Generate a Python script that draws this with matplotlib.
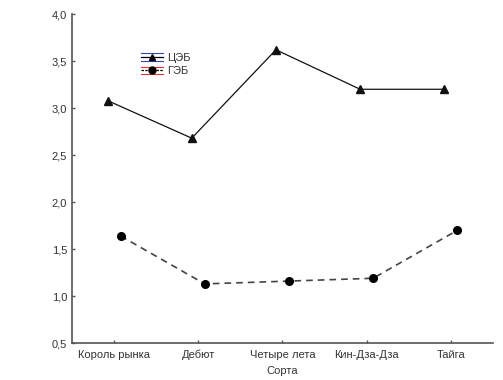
import matplotlib
matplotlib.use("Agg")
import matplotlib.pyplot as plt
import matplotlib.transforms as mtransforms
from matplotlib.legend_handler import HandlerBase
from matplotlib.lines import Line2D

categories = ["Король рынка", "Дебют", "Четыре лета", "Кин-Дза-Дза", "Тайга"]
ceb = [3.08, 2.68, 3.62, 3.20, 3.20]
geb = [1.64, 1.13, 1.16, 1.19, 1.70]
yticks = [0.5, 1.0, 1.5, 2.0, 2.5, 3.0, 3.5, 4.0]
ytick_labels = ["0,5", "1,0", "1,5", "2,0", "2,5", "3,0", "3,5", "4,0"]

plt.rcParams['font.family'] = ['Liberation Sans', 'DejaVu Sans']

fig = plt.figure(figsize=(5.03, 3.80), dpi=100)
ax = fig.add_axes([0.143, 0.097, 0.837, 0.866])

x = list(range(len(categories)))
off_l = ax.transData + mtransforms.ScaledTranslation(-0.065, 0, fig.dpi_scale_trans)
off_r = ax.transData + mtransforms.ScaledTranslation(0.065, 0, fig.dpi_scale_trans)

ax.plot(x, ceb, color='#111111', lw=0.9, marker='^', markersize=5.5,
        transform=off_l)
ax.plot(x, geb, color='#444444', lw=1.2, ls=(0, (4, 3)), marker='o',
        markersize=5.5, markerfacecolor='black', markeredgecolor='black',
        transform=off_r)

ax.set_xlim(-0.5, 4.5)
ax.set_ylim(0.5, 4.0)
ax.set_xticks(x)
ax.set_xticklabels(categories, va='baseline')
ax.set_yticks(yticks)
ax.set_yticklabels(ytick_labels)
for s in ['top', 'right']:
    ax.spines[s].set_visible(False)
for s in ['left', 'bottom']:
    ax.spines[s].set_color('#555555')
    ax.spines[s].set_linewidth(1.2)
ax.tick_params(direction='in', length=2.5, width=1, color='#555555',
               labelsize=8, labelcolor='#333333')
ax.tick_params(axis='x', pad=11)
ax.set_xlabel("Сорта", fontsize=8, color='#333333', labelpad=4)


class EBHandler(HandlerBase):
    def __init__(self, color, marker, ls):
        super().__init__()
        self.color = color
        self.marker = marker
        self.ls = ls

    def create_artists(self, legend, orig_handle, xdescent, ydescent,
                       width, height, fontsize, trans):
        arts = []
        for dy in (height * 0.0, height * 1.0):
            arts.append(Line2D([0 - xdescent, width - xdescent],
                               [dy - ydescent, dy - ydescent],
                               color=self.color, lw=0.8, transform=trans))
        mid = height / 2 - ydescent
        arts.append(Line2D([0 - xdescent, width - xdescent], [mid, mid],
                           color='black', lw=0.9, ls=self.ls, transform=trans))
        arts.append(Line2D([width / 2 - xdescent], [mid], color='black',
                           marker=self.marker, markersize=5, ls='none',
                           transform=trans))
        return arts


h1 = Line2D([], [])
h2 = Line2D([], [])
leg = ax.legend([h1, h2], ["ЦЭБ", "ГЭБ"], loc='upper left',
                bbox_to_anchor=(0.14, 0.912), frameon=False, fontsize=8,
                handlelength=2.0, handletextpad=0.4, labelspacing=0.3,
                handler_map={h1: EBHandler('#3344aa', '^', '-'),
                             h2: EBHandler('#dd3333', 'o', (0, (2, 1)))})
for t in leg.get_texts():
    t.set_color('#333333')

fig.savefig("out.png", dpi=100)
